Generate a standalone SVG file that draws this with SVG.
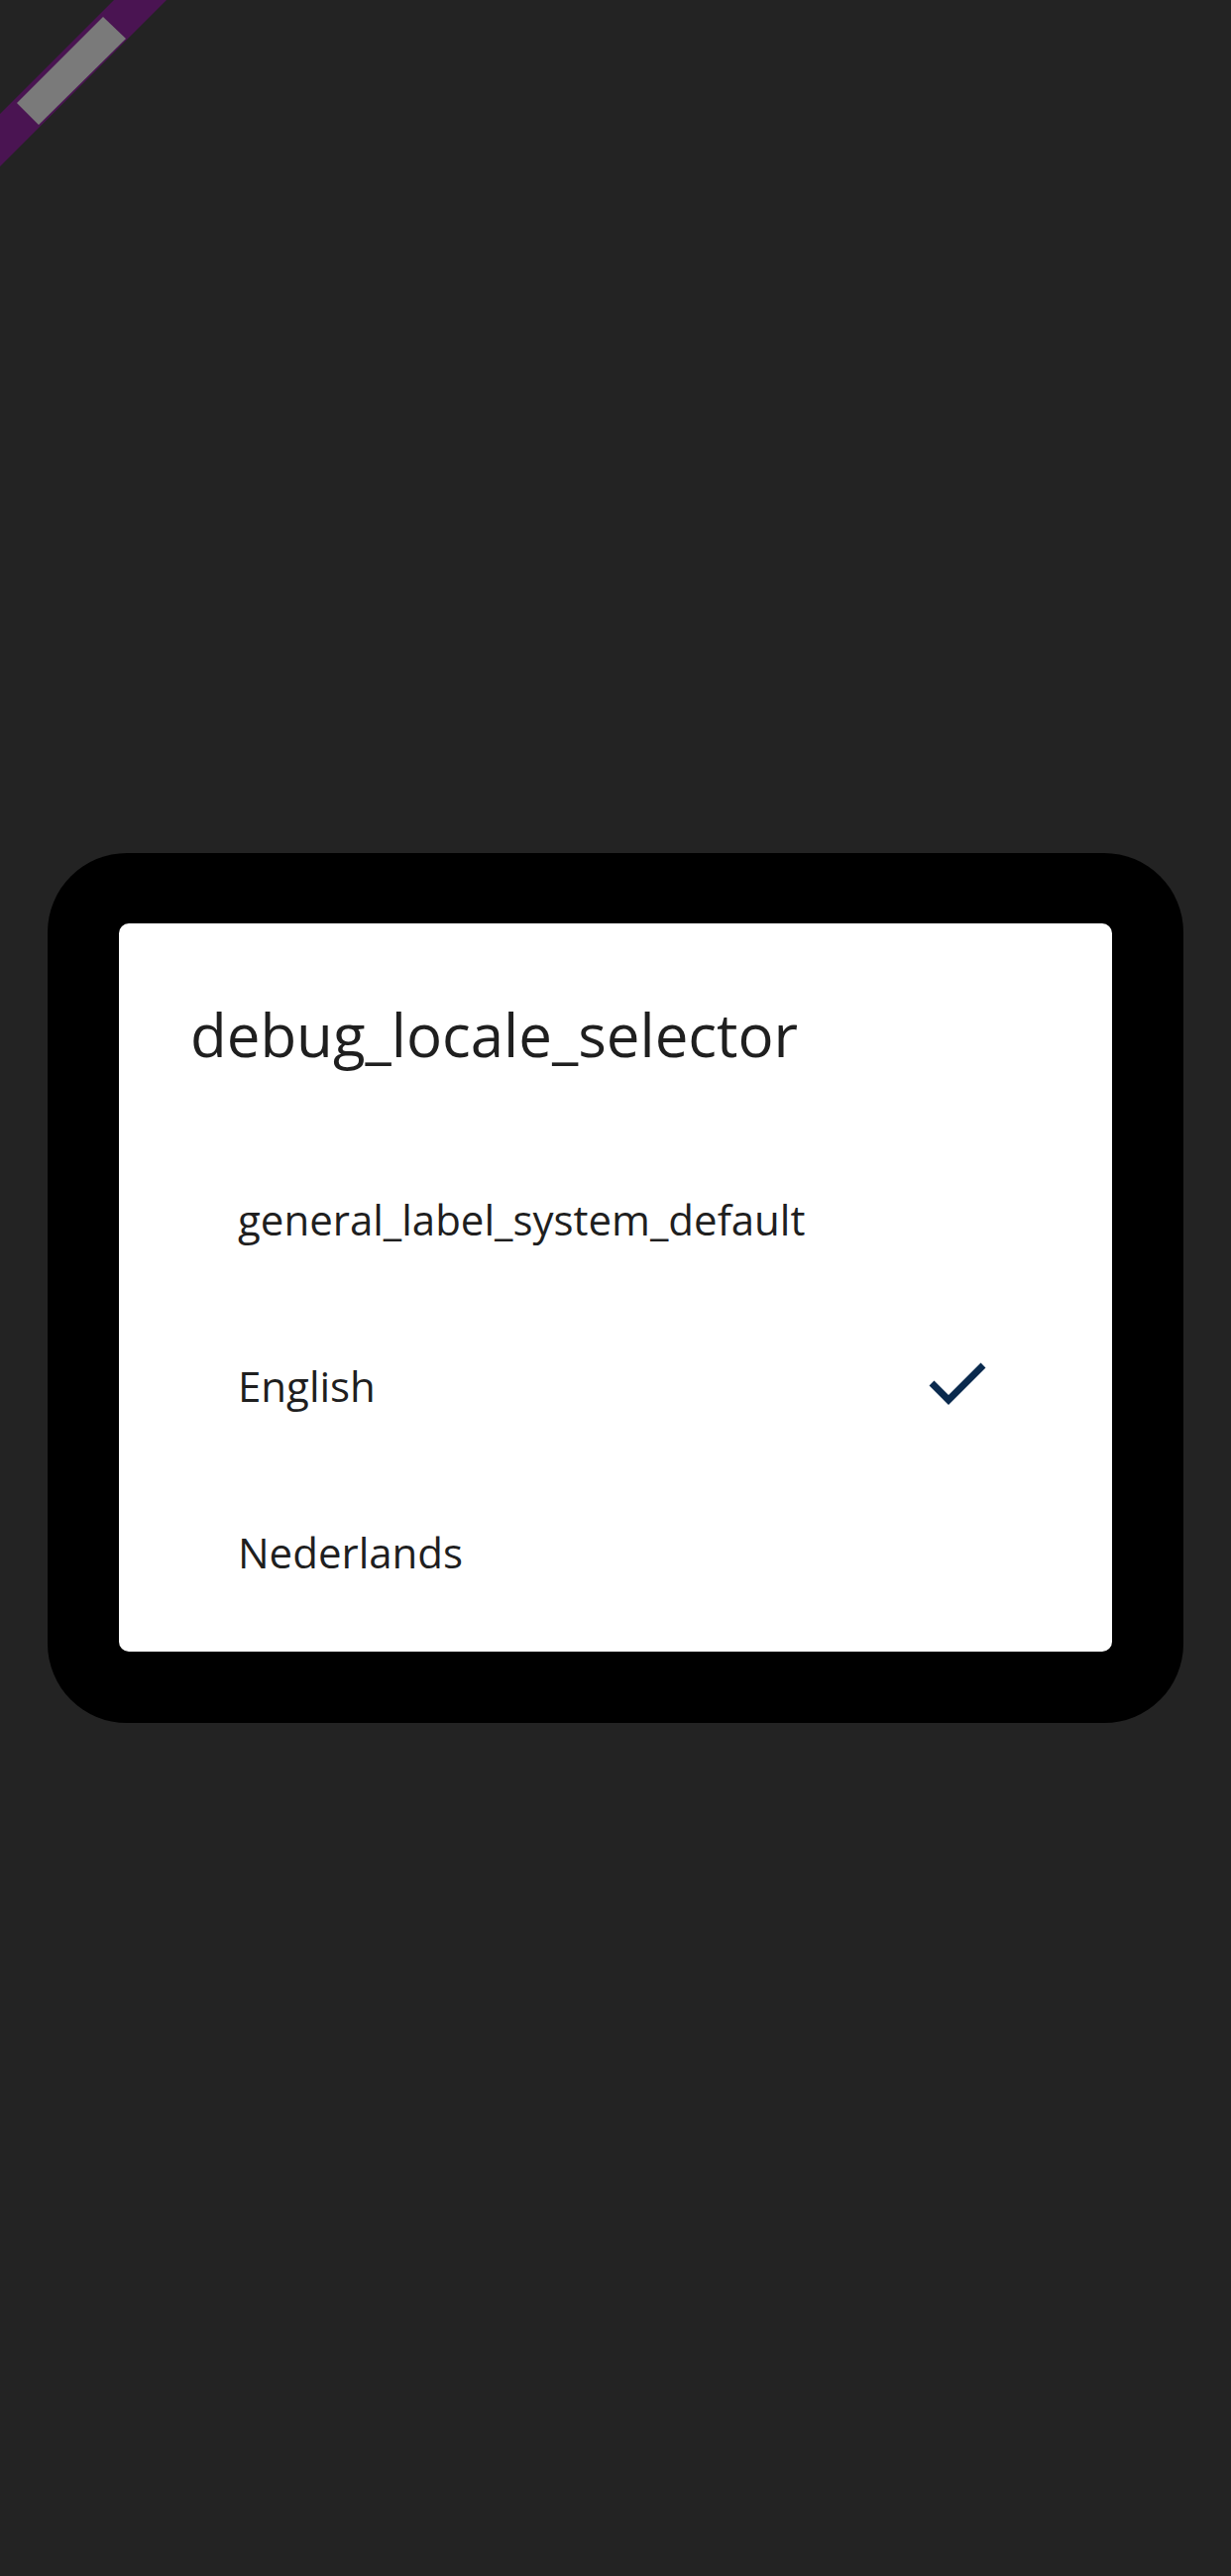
<svg xmlns="http://www.w3.org/2000/svg" width="1242" height="2600" viewBox="0 0 1242 2600">
<style>
.t{font-family:"Open Sans","Noto Sans","DejaVu Sans",sans-serif;fill:#1f1f1f}
.title{font-size:60px}
.item{font-size:42px}
</style>
<rect x="0" y="0" width="1242" height="2600" fill="#232323"/>
<g id="debug-banner">
<polygon points="115,0 168,0 0,168 0,115" fill="#4a1452"/>
<polygon points="104,17 127,39 39,126 17,104" fill="#7a7a7a"/>
</g>
<g id="dialog-frame">
<rect x="48" y="861" width="1146" height="878" rx="80" ry="80" fill="#000000"/>
</g>
<g id="dialog">
<rect x="120" y="932" width="1002" height="735" rx="10" ry="10" fill="#ffffff"/>
<text class="t title" x="192" y="1067">debug_locale_selector</text>
</g>
<g id="item-system-default">
<text class="t item" x="240" y="1247">general_label_system_default</text>
</g>
<g id="item-english">
<text class="t item" x="240" y="1415">English</text>
<polyline points="940,1396 957,1413 992,1378" fill="none" stroke="#0a2a4e" stroke-width="7" stroke-linecap="butt"/>
</g>
<g id="item-nederlands">
<text class="t item" x="240" y="1583">Nederlands</text>
</g>
<g id="connectors"/>
</svg>
